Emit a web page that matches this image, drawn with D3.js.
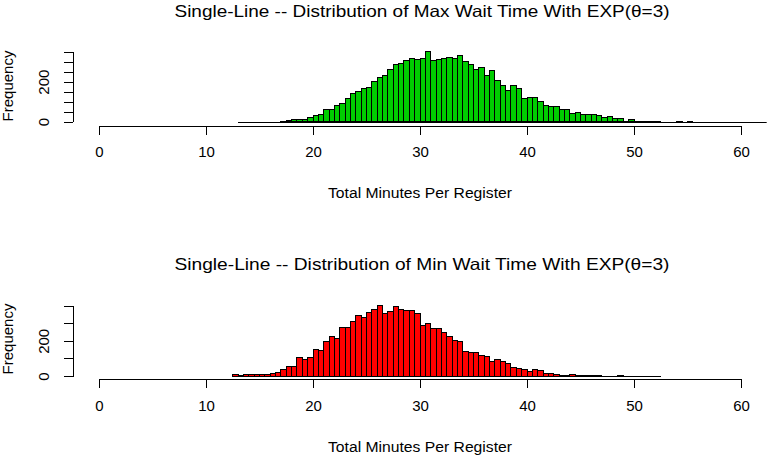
<!DOCTYPE html>
<html>
<head>
<meta charset="utf-8">
<title>wait time histograms</title>
<script src="https://cdn.jsdelivr.net/npm/d3@7/dist/d3.min.js"></script>
<style>
    body { margin: 0; background: #fff; }
    svg { display: block; }
    text { font-family: Arial, "Liberation Sans", sans-serif; fill: #000; }
    .axis path, .axis line { stroke: #000; stroke-width: 1; shape-rendering: crispEdges; }
    .bar { stroke: #000; stroke-width: 1; shape-rendering: crispEdges; }
</style>
</head>
<body>
<div id="chart"></div>
<script>

    var W = 767, H = 456;

    // histogram bins are 0.5 minutes wide
    var binWidth = 0.5;
    var xTicks = [0, 10, 20, 30, 40, 50, 60];

    // max wait (top panel), bins start at 13.0
    var maxStart = 13.0;
    var maxCounts = [
        0, 0, 0, 0, 0, 0, 0, 0,
        3, 4, 10, 13, 13, 23, 33, 38, 63, 63,
        83, 93, 118, 143, 153, 168, 173, 203, 223, 233,
        263, 288, 293, 308, 318, 313, 318, 353, 308, 313,
        318, 323, 318, 333, 303, 288, 263, 273, 233, 258,
        208, 183, 158, 183, 168, 118, 123, 123, 103, 83,
        78, 78, 63, 63, 43, 48, 38, 38, 38, 33,
        23, 28, 18, 18, 3, 13, 2, 2, 1, 2,
        1, 0, 0, 0, 1, 0, 1, 0, 0, 0,
        0, 0, 0, 0, 0, 0, 0, 0, 0, 0,
        0, 0, 0, 0, 0, 0, 0, 0
    ];
    var maxYTicks = [0, 50, 100, 150, 200, 250, 300, 350];

    // min wait (bottom panel), bins start at 12.5
    var minStart = 12.5;
    var minCounts = [
        6, 1, 6, 9, 6, 9, 9, 15, 21, 38,
        55, 55, 106, 95, 106, 152, 146, 197, 226, 214,
        277, 277, 311, 345, 334, 362, 379, 402, 357, 368,
        396, 379, 374, 374, 357, 288, 300, 271, 271, 248,
        226, 203, 197, 140, 135, 135, 118, 112, 83, 95,
        83, 72, 49, 44, 38, 27, 38, 32, 15, 15,
        9, 4, 4, 9, 4, 1, 3, 3, 3, 0,
        0, 0, 4, 0, 0, 0, 0, 0, 0, 0
    ];
    var minYTicks = [0, 100, 200, 300, 400];

    var yLabelShown = [0, 200];

    var svg = d3.select("#chart").append("svg")
            .attr("width", W)
            .attr("height", H);

    function panel(opts) {
        var g = svg.append("g");
        var x = d3.scaleLinear().domain([0, 60]).range([99, 741]);
        var y = d3.scaleLinear().domain([0, opts.yMax]).range([opts.y0, opts.yTop]);

        // plot region clip (R extends xlim by 4%)
        var clipId = "clip" + opts.id;
        svg.append("clipPath").attr("id", clipId)
            .append("rect")
            .attr("x", x(-2.4)).attr("y", 0)
            .attr("width", x(62.4) - x(-2.4)).attr("height", H);

        var bins = opts.counts.map(function(c, i) {
            return {x0: opts.start + i * binWidth, x1: opts.start + (i + 1) * binWidth, n: c};
        });

        var plot = g.append("g").attr("clip-path", "url(#" + clipId + ")");

        // zero-height bins show only as a line
        plot.append("line")
            .attr("class", "bar")
            .attr("x1", x(bins[0].x0))
            .attr("x2", x(bins[bins.length - 1].x1))
            .attr("y1", Math.round(y(0)) + 0.5)
            .attr("y2", Math.round(y(0)) + 0.5);

        plot.selectAll("rect.bar")
            .data(bins.filter(function(d) { return d.n > 0; }))
            .enter()
            .append("rect")
            .attr("class", "bar")
            .attr("fill", opts.fill)
            .attr("x", function(d) { return x(d.x0); })
            .attr("width", function(d) { return x(d.x1) - x(d.x0); })
            .attr("y", function(d) { return y(d.n); })
            .attr("height", function(d) { return y(0) - y(d.n); });

        // x axis
        var xa = g.append("g")
            .attr("class", "axis")
            .attr("transform", "translate(0," + opts.xAxisY + ")")
            .call(d3.axisBottom(x).tickValues(xTicks).tickSize(9).tickSizeOuter(0).tickPadding(12));
        xa.selectAll("text").attr("font-size", "15px").style("font-family", "Arial, 'Liberation Sans', sans-serif");

        // y axis, labels parallel to the axis
        var ya = g.append("g")
            .attr("class", "axis")
            .attr("transform", "translate(73.3,0)")
            .call(d3.axisLeft(y).tickValues(opts.yTicks).tickSize(9).tickSizeOuter(0)
                .tickFormat(function(d) { return yLabelShown.indexOf(d) >= 0 ? d : ""; }));
        ya.selectAll("text")
            .attr("font-size", "15px")
            .style("font-family", "Arial, 'Liberation Sans', sans-serif")
            .attr("text-anchor", "middle")
            .attr("dy", 0)
            .attr("x", 0)
            .attr("y", -24)
            .attr("transform", "rotate(-90)");

        // titles (stretched a bit to the width of the original)
        g.append("text")
            .attr("x", 422).attr("y", opts.titleY)
            .attr("text-anchor", "middle")
            .attr("font-size", "16.5px")
            .attr("textLength", 495)
            .attr("lengthAdjust", "spacingAndGlyphs")
            .text(opts.title);

        g.append("text")
            .attr("x", 420).attr("y", opts.xAxisY + 72.5)
            .attr("text-anchor", "middle")
            .attr("font-size", "15.5px")
            .attr("textLength", 184)
            .attr("lengthAdjust", "spacingAndGlyphs")
            .text("Total Minutes Per Register");

        g.append("text")
            .attr("transform", "translate(13," + opts.yMid + ") rotate(-90)")
            .attr("text-anchor", "middle")
            .attr("font-size", "15px")
            .text("Frequency");
    }

    panel({
        id: "Max", counts: maxCounts, start: maxStart, fill: "#00CD00",
        yMax: 350, y0: 121.7, yTop: 51.7, yTicks: maxYTicks,
        xAxisY: 125.5, titleY: 17, yMid: 86,
        title: "Single-Line -- Distribution of Max Wait Time With EXP(\u03b8=3)"
    });

    panel({
        id: "Min", counts: minCounts, start: minStart, fill: "#FF0000",
        yMax: 400, y0: 376, yTop: 305.7, yTicks: minYTicks,
        xAxisY: 379.3, titleY: 270, yMid: 339,
        title: "Single-Line -- Distribution of Min Wait Time With EXP(\u03b8=3)"
    });

</script>
</body>
</html>
